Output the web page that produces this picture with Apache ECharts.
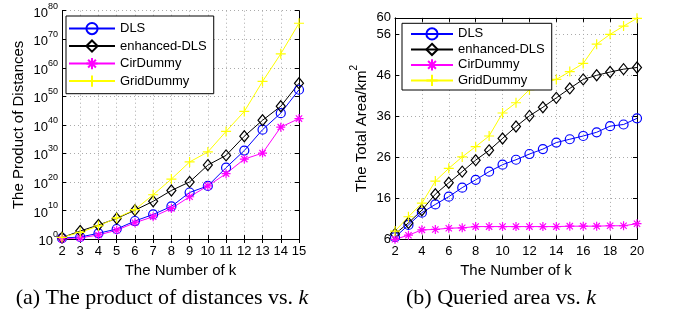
<!DOCTYPE html>
<html>
<head>
<meta charset="utf-8">
<script src="https://cdn.jsdelivr.net/npm/echarts@6/dist/echarts.min.js"></script>
<style>
  html, body { margin: 0; background: #fff; }
  #chart { width: 677px; height: 320px; }
</style>
</head>
<body>
<div id="chart"></div>
<script>
// (a) product of distances, stored as log10 of the value (axis is 10^0 .. 10^80)
const kA = [2, 3, 4, 5, 6, 7, 8, 9, 10, 11, 12, 13, 14, 15];
const dlsA = [0.3, 0.7, 2, 3.5, 6.3, 8.6, 11.4, 16.3, 18.6, 25, 31, 38.3, 44.1, 52.3];
const enhancedA = [0.5, 2.8, 4.9, 7.2, 10.1, 13.2, 17, 20, 25.9, 29.3, 36, 41.6, 46.5, 54.6];
const cirA = [0, 0.4, 1.4, 3.1, 5.7, 7.8, 10.7, 14.8, 18.6, 22.9, 28, 30.1, 39.2, 42.2];
const gridA = [0.6, 2.3, 4.6, 7.4, 10.3, 15.5, 21, 27, 30.5, 37.7, 44.7, 55.2, 64.9, 75.6];

// (b) queried area, km^2
const kB = [2, 3, 4, 5, 6, 7, 8, 9, 10, 11, 12, 13, 14, 15, 16, 17, 18, 19, 20];
const dlsB = [6.5, 9.5, 12.5, 14.5, 16.4, 18.6, 20.5, 22.5, 24.2, 25.4, 26.8, 28, 29.6, 30.4, 31.2, 32.1, 33.6, 34, 35.5];
const enhancedB = [7.3, 10, 13.1, 17, 19.8, 22.5, 25.3, 27.7, 30.6, 33.5, 36.1, 38.2, 40.5, 42.8, 45, 46, 46.8, 47.5, 47.9];
const cirB = [6, 7, 8.3, 8.4, 8.7, 8.8, 9.1, 9.1, 9.1, 9.1, 9.1, 9.1, 9.1, 9.2, 9.2, 9.2, 9.3, 9.3, 9.8];
const gridB = [8, 11.5, 14.8, 20.2, 23.3, 26.1, 28.6, 31.2, 36.8, 39.3, 42.5, 44, 45, 46.9, 48.9, 53.6, 56, 58, 59.9];

const names = ['DLS', 'enhanced-DLS', 'CirDummy', 'GridDummy'];
const colors = ['#0000ff', '#000000', '#ff00ff', '#ffff00'];
const symbols = [
  'circle',
  'diamond',
  'path://M0,-10L0,10M-10,0L10,0M-7,-7L7,7M-7,7L7,-7',
  'path://M0,-10L0,10M-10,0L10,0'
];
const symbolSizes = [9, [9, 11], 9, 10];

const font = "'Liberation Sans', Arial, Helvetica, sans-serif";
const serif = "'Liberation Serif', 'Times New Roman', serif";

const chart = echarts.init(document.getElementById('chart'), null, { renderer: 'canvas' });

const gridLine = { show: true, lineStyle: { color: '#aaa', type: [1, 3], width: 1 } };
const blackLine = { show: true, lineStyle: { color: '#000', width: 1 } };
const tickIn = { show: true, inside: true, length: 4, lineStyle: { color: '#000' } };

function xAxes(gridIndex, min, max, interval) {
  return [
    {
      gridIndex, type: 'value', min, max, interval, position: 'bottom',
      name: 'The Number of k', nameLocation: 'middle', nameGap: 23,
      nameTextStyle: { fontFamily: font, fontSize: 15, color: '#000' },
      axisLine: blackLine, axisTick: tickIn, splitLine: gridLine,
      axisLabel: { fontFamily: font, fontSize: 13, color: '#000', margin: 6 }
    },
    {
      gridIndex, type: 'value', min, max, interval, position: 'top',
      axisLine: blackLine, axisTick: tickIn, splitLine: { show: false },
      axisLabel: { show: false }
    }
  ];
}

function yAxes(gridIndex, min, max, interval, first) {
  return [Object.assign({
    gridIndex, type: 'value', min, max, interval, position: 'left',
    axisLine: blackLine, axisTick: tickIn, splitLine: gridLine
  }, first), {
    gridIndex, type: 'value', min, max, interval, position: 'right',
    axisLine: blackLine, axisTick: tickIn, splitLine: { show: false },
    axisLabel: { show: false }
  }];
}

function makeSeries(xIdx, yIdx, ks, lists) {
  return lists.map((vals, i) => ({
    name: names[i],
    type: 'line',
    xAxisIndex: xIdx,
    yAxisIndex: yIdx,
    data: ks.map((k, j) => [k, vals[j]]),
    symbol: symbols[i],
    symbolSize: symbolSizes[i],
    showAllSymbol: true,
    clip: false,
    animation: false,
    lineStyle: { color: colors[i], width: 1 },
    itemStyle: { color: 'rgba(0,0,0,0)', borderColor: colors[i], borderWidth: 1.2 },
    emphasis: { disabled: true }
  }));
}

function legendAt(left, top, gap, pad, width) {
  return {
    left, top, orient: 'vertical', selectedMode: false,
    data: names,
    itemWidth: width, itemHeight: 14, itemGap: gap,
    padding: pad,
    backgroundColor: '#fff', borderColor: '#000', borderWidth: 1, borderRadius: 0,
    textStyle: { fontFamily: font, fontSize: 13, color: '#000' }
  };
}

function caption(x, text) {
  return {
    type: 'text', x, y: 298,
    style: {
      text: '{n|' + text + '}{i|k}',
      align: 'center', verticalAlign: 'middle',
      rich: {
        n: { fontFamily: serif, fontSize: 22, fill: '#000' },
        i: { fontFamily: serif, fontSize: 22, fontStyle: 'italic', fill: '#000' }
      }
    }
  };
}

const option = {
  backgroundColor: '#fff',
  animation: false,
  grid: [
    { left: 62, top: 10.7, width: 237, height: 228.3, show: false },
    { left: 395, top: 17.9, width: 242, height: 221.4, show: false }
  ],
  xAxis: [...xAxes(0, 2, 15, 1), ...xAxes(1, 2, 20, 2)],
  yAxis: [
    ...yAxes(0, 0, 80, 10, {
      name: 'The Product of Distances', nameLocation: 'middle', nameGap: 36,
      nameTextStyle: { fontFamily: font, fontSize: 15, color: '#000' },
      axisLabel: {
        margin: 4, color: '#000',
        formatter: v => '{b|10}{s|' + v + '}',
        rich: {
          b: { fontFamily: font, fontSize: 13, color: '#000', verticalAlign: 'bottom', lineHeight: 18 },
          s: { fontFamily: font, fontSize: 9, color: '#000', verticalAlign: 'top', lineHeight: 10 }
        }
      }
    }),
    ...yAxes(1, 6, 60, 10, {
      name: '{a|The Total Area/km}{s|2}', nameLocation: 'middle', nameGap: 26,
      nameTextStyle: {
        color: '#000',
        rich: {
          a: { fontFamily: font, fontSize: 15, color: '#000', verticalAlign: 'bottom', lineHeight: 20 },
          s: { fontFamily: font, fontSize: 10, color: '#000', verticalAlign: 'top', lineHeight: 12 }
        }
      },
      axisLabel: { fontFamily: font, fontSize: 13, color: '#000', margin: 4 }
    })
  ],
  legend: [
    legendAt(66, 16, 4.3, [6, 7, 6, 2], 46),
    legendAt(402, 23.3, 2.3, [4, 7, 3, 8], 42)
  ],
  series: [
    ...makeSeries(0, 0, kA, [dlsA, enhancedA, cirA, gridA]),
    ...makeSeries(2, 2, kB, [dlsB, enhancedB, cirB, gridB])
  ],
  graphic: [
    caption(162, '(a) The product of distances vs. '),
    caption(501, '(b) Queried area vs. ')
  ]
};

chart.setOption(option);
</script>
</body>
</html>
